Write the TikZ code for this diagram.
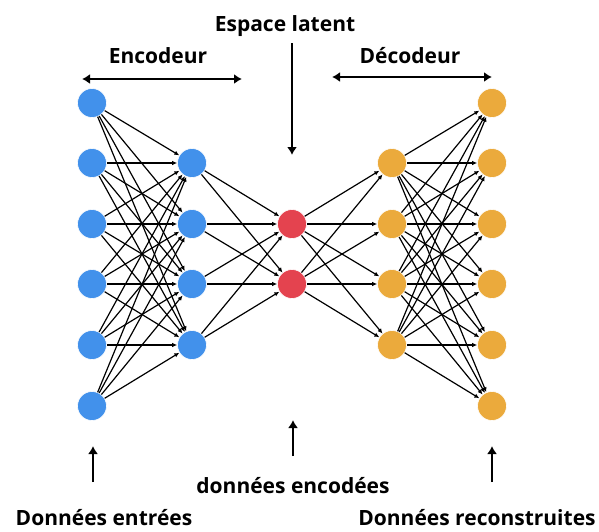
\documentclass[tikz,border=0pt]{standalone}
\usepackage{fontspec}
\setmainfont{Open Sans}
\usetikzlibrary{arrows.meta}
\definecolor{encblue}{HTML}{4291EB}
\definecolor{decorange}{HTML}{EBAA3C}
\definecolor{latred}{HTML}{E4434F}
\begin{document}
\begin{tikzpicture}[x=1pt,y=-1pt,
  neuron/.style={circle,minimum size=29pt,inner sep=0pt,draw=white,line width=0.6pt},
  conn/.style={line width=1.2pt,-{Latex[length=5pt,width=4.5pt]}},
  bigarrow/.style={line width=2.7pt,-{Latex[length=8pt,width=10pt]}},
  bigdouble/.style={line width=2.7pt,{Latex[length=8pt,width=10pt]}-{Latex[length=8pt,width=10pt]}},
  lbl/.style={font=\bfseries\fontsize{21}{24}\selectfont,anchor=base,inner sep=0pt}]
\useasboundingbox (0,0) rectangle (599,531);
% nodes
\foreach \i/\y in {1/103,2/163,3/224,4/284,5/345,6/406}{
  \node[neuron,fill=encblue] (L\i) at (92,\y) {};
  \node[neuron,fill=decorange] (R\i) at (492,\y) {};
}
\foreach \i/\y in {1/163,2/224,3/284,4/345}{
  \node[neuron,fill=encblue] (E\i) at (192,\y) {};
  \node[neuron,fill=decorange] (D\i) at (392,\y) {};
}
\node[neuron,fill=latred] (M1) at (292,224) {};
\node[neuron,fill=latred] (M2) at (292,284) {};
% connections
\foreach \i in {1,...,6}{\foreach \j in {1,...,4}{\draw[conn] (L\i) -- (E\j);}}
\foreach \i in {1,...,4}{\foreach \j in {1,2}{\draw[conn] (E\i) -- (M\j);}}
\foreach \i in {1,2}{\foreach \j in {1,...,4}{\draw[conn] (M\i) -- (D\j);}}
\foreach \i in {1,...,4}{\foreach \j in {1,...,6}{\draw[conn] (D\i) -- (R\j);}}
% labels
\node[lbl] (enc) at (158,63) {Encodeur};
\node[lbl] (dec) at (410,63) {Décodeur};
\node[lbl] (lat) at (285,31) {Espace latent};
\node[lbl] (code) at (293,493) {données encodées};
\node[lbl] (inp) at (104,525) {Données entrées};
\node[lbl] (out) at (477,525) {Données reconstruites};
% big arrows
\coordinate (encA) at (82,79); \coordinate (encB) at (242,79);
\coordinate (decA) at (332,77); \coordinate (decB) at (492,77);
\coordinate (latA) at (292,43); \coordinate (latB) at (292,155);
\coordinate (inA) at (93,482); \coordinate (inB) at (93,446);
\coordinate (coA) at (293,456); \coordinate (coB) at (293,420);
\coordinate (ouA) at (492,482); \coordinate (ouB) at (492,446);
\draw[bigdouble] (encA) -- (encB);
\draw[bigdouble] (decA) -- (decB);
\draw[bigarrow] (latA) -- (latB);
\draw[bigarrow] (inA) -- (inB);
\draw[bigarrow] (coA) -- (coB);
\draw[bigarrow] (ouA) -- (ouB);
\end{tikzpicture}
\end{document}
